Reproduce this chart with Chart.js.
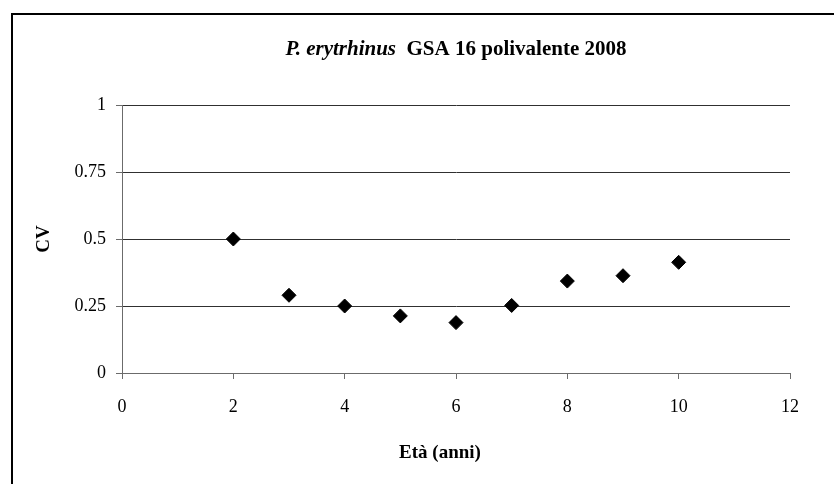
<!DOCTYPE html>
<html>
<head>
<meta charset="utf-8">
<script src="https://cdn.jsdelivr.net/npm/chart.js@4"></script>
<style>
  html, body { margin: 0; padding: 0; background: #fff; }
  #wrap { width: 834px; height: 484px; }
</style>
</head>
<body>
<div id="wrap"><canvas id="chart" width="834" height="484"></canvas></div>
<script>
// data
const ages = [2, 3, 4, 5, 6, 7, 8, 9, 10]
const cv = [0.50, 0.29, 0.25, 0.213, 0.188, 0.252, 0.343, 0.363, 0.413]
const xTicks = [0, 2, 4, 6, 8, 10, 12]
const yTicks = [0, 0.25, 0.5, 0.75, 1]

const titleItalic = 'P. erytrhinus'
const titleBold = 'GSA 16 polivalente 2008'
const xTitle = 'Età (anni)'
const yTitle = 'CV'

const serif = '"Liberation Serif", "Times New Roman", serif'

// frame, chart title and axis titles
const decor = {
  id: 'decor',
  beforeDraw(chart) {
    const ctx = chart.ctx
    ctx.save()
    ctx.strokeStyle = '#000'
    ctx.lineWidth = 2
    ctx.strokeRect(12, 14, 900, 600)
    ctx.restore()
  },
  afterDraw(chart) {
    const ctx = chart.ctx
    const area = chart.chartArea
    const cx = (area.left + area.right) / 2
    ctx.save()
    ctx.fillStyle = '#000'
    ctx.textBaseline = 'middle'

    // title, italic species name then bold rest
    const f1 = 'italic bold 21px ' + serif
    const f2 = 'bold 21px ' + serif
    ctx.font = f1
    const w1 = ctx.measureText(titleItalic + '  ').width
    ctx.font = f2
    const w2 = ctx.measureText(titleBold).width
    let x = cx - (w1 + w2) / 2
    ctx.textAlign = 'left'
    ctx.font = f1
    ctx.fillText(titleItalic, x, 50)
    ctx.font = f2
    ctx.fillText(titleBold, x + w1, 50)

    // x title
    ctx.textAlign = 'center'
    ctx.font = 'bold 19px ' + serif
    ctx.fillText(xTitle, 440, 453)

    // y title
    ctx.translate(44, (area.top + area.bottom) / 2)
    ctx.rotate(-Math.PI / 2)
    ctx.font = 'bold 19px ' + serif
    ctx.fillText(yTitle, 0, 0)
    ctx.restore()
  }
}

new Chart(document.getElementById('chart'), {
  type: 'scatter',
  data: {
    datasets: [{
      data: ages.map((a, i) => ({ x: a, y: cv[i] })),
      pointStyle: 'rectRot',
      pointRadius: 7,
      pointBackgroundColor: '#000',
      pointBorderColor: '#000',
      pointBorderWidth: 1
    }]
  },
  options: {
    responsive: false,
    animation: false,
    layout: { padding: { left: 0, right: 44, top: 105, bottom: 0 } },
    plugins: { legend: { display: false }, tooltip: { enabled: false } },
    scales: {
      x: {
        type: 'linear',
        min: 0,
        max: 12,
        afterBuildTicks: (scale) => { scale.ticks = xTicks.map(v => ({ value: v })) },
        afterFit: (scale) => { scale.height = 111 },
        grid: { drawOnChartArea: false, tickLength: 6, tickColor: '#6b6b6b', lineWidth: 1 },
        border: { color: '#6b6b6b', width: 1 },
        ticks: { color: '#000', padding: 17, font: { family: serif, size: 18 }, maxRotation: 0 }
      },
      y: {
        min: 0,
        max: 1,
        afterBuildTicks: (scale) => { scale.ticks = yTicks.map(v => ({ value: v })) },
        afterFit: (scale) => { scale.width = 122 },
        grid: {
          color: (c) => c.tick && c.tick.value === 0 ? '#6b6b6b' : '#303030',
          tickColor: '#6b6b6b',
          tickLength: 6,
          lineWidth: 1
        },
        border: { color: '#6b6b6b', width: 1 },
        ticks: {
          color: '#000',
          padding: 10,
          font: { family: serif, size: 18 },
          callback: (v) => String(v)
        }
      }
    }
  },
  plugins: [decor]
});
</script>
</body>
</html>
